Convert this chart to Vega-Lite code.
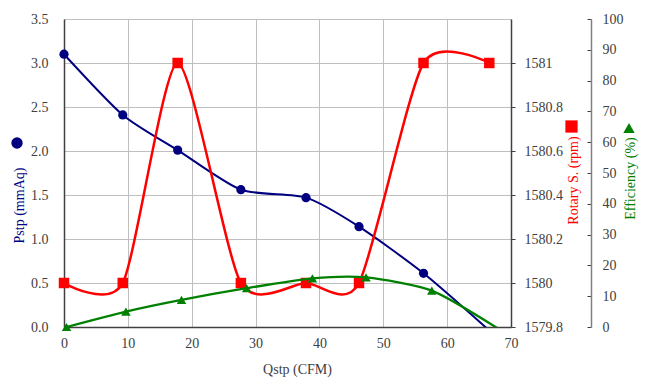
{
  "$schema": "https://vega.github.io/schema/vega-lite/v6.json",
  "width": 447,
  "height": 308,
  "autosize": {"type": "none"},
  "padding": {"left": 64, "top": 19, "right": 136, "bottom": 63},
  "background": "white",
  "datasets": {
    "fan": [
      {"Q": 0, "Pstp": 3.10, "Rpm": 1580},
      {"Q": 9.2, "Pstp": 2.41, "Rpm": 1580},
      {"Q": 17.8, "Pstp": 2.01, "Rpm": 1581},
      {"Q": 27.7, "Pstp": 1.56, "Rpm": 1580},
      {"Q": 37.9, "Pstp": 1.47, "Rpm": 1580},
      {"Q": 46.2, "Pstp": 1.14, "Rpm": 1580},
      {"Q": 56.3, "Pstp": 0.61, "Rpm": 1581},
      {"Q": 66.6, "Pstp": -0.04, "Rpm": 1581}
    ],
    "eff": [
      {"Q": 0.4, "Eff": 0},
      {"Q": 9.7, "Eff": 5.0},
      {"Q": 18.4, "Eff": 8.8},
      {"Q": 28.6, "Eff": 12.6},
      {"Q": 38.9, "Eff": 15.8},
      {"Q": 47.3, "Eff": 16.1},
      {"Q": 57.6, "Eff": 11.8},
      {"Q": 68.2, "Eff": -0.8}
    ]
  },
  "encoding": {
    "x": {
      "field": "Q", "type": "quantitative",
      "scale": {"domain": [0, 70], "nice": false},
      "axis": {
        "title": "Qstp (CFM)", "values": [0, 10, 20, 30, 40, 50, 60, 70],
        "grid": true, "ticks": false, "labelPadding": 9, "labelFlush": false,
        "titleColor": "#404040", "titleX": 233, "titleY": 42,
        "titleAlign": "center", "titleBaseline": "middle", "domainWidth": 1.5
      }
    }
  },
  "layer": [
    {
      "data": {"name": "fan"},
      "encoding": {
        "y": {
          "field": "Pstp", "type": "quantitative",
          "scale": {"domain": [0, 3.5], "nice": false},
          "axis": {
            "orient": "left", "title": "Pstp (mmAq)", "titleColor": "#000080",
            "values": [0, 0.5, 1, 1.5, 2, 2.5, 3, 3.5], "format": ".1f",
            "ticks": false, "labelPadding": 16, "grid": true, "domainWidth": 1.5,
            "titleAngle": -90, "titleX": -45, "titleY": 186,
            "titleAlign": "center", "titleBaseline": "middle"
          }
        }
      },
      "layer": [
        {"mark": {"type": "line", "interpolate": "cardinal", "tension": 0.3, "color": "#000080", "strokeWidth": 2, "clip": true}},
        {
          "transform": [{"filter": "datum.Pstp >= 0"}],
          "mark": {"type": "point", "shape": "circle", "filled": true, "size": 85, "opacity": 1},
          "encoding": {
            "color": {
              "datum": "Pstp", "type": "nominal",
              "scale": {"domain": ["Pstp"], "range": ["#000080"]},
              "legend": {"orient": "none", "legendX": -53, "legendY": 118, "title": null, "symbolType": "circle", "symbolSize": 130, "labelExpr": "''", "padding": 0, "symbolStrokeWidth": 0}
            }
          }
        }
      ]
    },
    {
      "data": {"name": "fan"},
      "encoding": {
        "y": {
          "field": "Rpm", "type": "quantitative",
          "scale": {"domain": [1579.8, 1581.2], "nice": false, "zero": false},
          "axis": {
            "orient": "right", "title": "Rotary S. (rpm)", "titleColor": "#FF0000",
            "values": [1579.8, 1580, 1580.2, 1580.4, 1580.6, 1580.8, 1581],
            "labelExpr": "'' + datum.value", "grid": false, "tickSize": 4, "labelPadding": 9,
            "domainWidth": 1.5,
            "titleAngle": -90, "titleX": 62, "titleY": 161,
            "titleAlign": "center", "titleBaseline": "middle"
          }
        }
      },
      "layer": [
        {"mark": {"type": "line", "interpolate": "cardinal", "tension": 0.3, "color": "#FF0000", "strokeWidth": 2.5, "clip": true}},
        {
          "mark": {"type": "point", "shape": "square", "filled": true, "size": 110, "opacity": 1},
          "encoding": {
            "color": {
              "datum": "Rpm", "type": "nominal",
              "scale": {"domain": ["Rpm"], "range": ["#FF0000"]},
              "legend": {"orient": "none", "legendX": 501, "legendY": 101, "title": null, "symbolType": "square", "symbolSize": 150, "labelExpr": "''", "padding": 0, "symbolStrokeWidth": 0}
            }
          }
        }
      ]
    },
    {
      "data": {"name": "eff"},
      "encoding": {
        "y": {
          "field": "Eff", "type": "quantitative",
          "scale": {"domain": [0, 100], "nice": false},
          "axis": {
            "orient": "right", "offset": 80, "title": "Efficiency (%)", "titleColor": "#008000",
            "values": [0, 10, 20, 30, 40, 50, 60, 70, 80, 90, 100],
            "grid": false, "tickSize": -4, "labelPadding": 15,
            "domainColor": "#808080", "domainWidth": 1.5,
            "titleAngle": -90, "titleX": 39, "titleY": 159,
            "titleAlign": "center", "titleBaseline": "middle"
          }
        }
      },
      "layer": [
        {"mark": {"type": "line", "interpolate": "cardinal", "tension": 0.3, "color": "#008000", "strokeWidth": 2.3, "clip": true}},
        {
          "transform": [{"filter": "datum.Eff >= 0"}],
          "mark": {"type": "point", "shape": "triangle-up", "filled": true, "size": 90, "opacity": 1},
          "encoding": {
            "color": {
              "datum": "Eff", "type": "nominal",
              "scale": {"domain": ["Eff"], "range": ["#008000"]},
              "legend": {"orient": "none", "legendX": 559, "legendY": 103, "title": null, "symbolType": "triangle-up", "symbolSize": 130, "labelExpr": "''", "padding": 0, "symbolStrokeWidth": 0}
            }
          }
        }
      ]
    }
  ],
  "resolve": {
    "scale": {"y": "independent", "color": "independent"},
    "axis": {"y": "independent"},
    "legend": {"color": "independent"}
  },
  "config": {
    "font": "Liberation Serif",
    "view": {"stroke": null},
    "axis": {
      "labelFont": "Liberation Serif", "titleFont": "Liberation Serif",
      "labelFontSize": 14, "titleFontSize": 14, "titleFontWeight": "normal",
      "labelColor": "#404040", "domainColor": "#404040", "tickColor": "#404040",
      "gridColor": "#BFBFBF", "gridWidth": 1
    }
  }
}
